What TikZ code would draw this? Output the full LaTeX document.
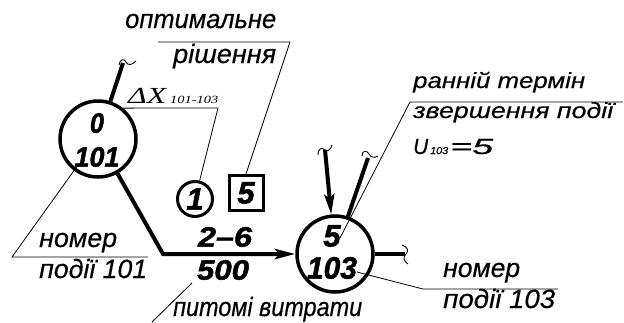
\documentclass[tikz,border=0pt]{standalone}
\usepackage{fontspec}
\usepackage{graphicx}
\usetikzlibrary{arrows.meta}
\setmainfont{Liberation Sans}[ItalicFeatures={FakeBold=0.4}]
\newfontfamily\serf{Liberation Serif}
\newfontfamily\numf{Liberation Sans Bold Italic}[FakeBold=1.6]
% set #2 horizontally stretched to the width #1 (in pt)
\newcommand\fitw[2]{\sbox0{#2}\edef\fitratio{\fpeval{(#1)/(\the\wd0)}}\scalebox{\fitratio}[1]{\usebox0}}

\begin{document}
\begin{tikzpicture}[x=1pt,y=-1pt,
  lbl/.style={inner sep=0pt, anchor=base west},
  fa/.style={lbl, font=\itshape\fontsize{26.5}{26.5}\selectfont},
  fc/.style={lbl, font=\itshape\fontsize{22}{22}\selectfont},
  num/.style={inner sep=0pt, font=\numf\fontsize{28}{28}\selectfont},
  bignum/.style={inner sep=0pt, font=\numf\fontsize{31}{31}\selectfont},
  evt/.style={circle, draw, line width=3.5pt, minimum size=76pt, inner sep=0pt},
  work/.style={line width=4pt},
  lead/.style={line width=0.8pt},
  brk/.style={line width=0.9pt},
  tip/.style={-{Stealth[length=20pt,width=10pt,inset=4pt]}}
]
\useasboundingbox (0,0) rectangle (624,322);

% events
\node[evt] (c101) at (98,139) {};
\node[num] (e101t) at (97,123) {\fitw{14}{0}};
\node[num] (e101b) at (97,157) {\fitw{45}{101}};
\node[evt] (c103) at (335,254) {};
\node[bignum] (e103t) at (332,236) {5};
\node[bignum] (e103b) at (332,268) {\fitw{50}{103}};

% work 101-103 with its marks
\node[circle, draw, line width=3pt, minimum size=35pt, inner sep=0pt] (c1) at (195,199) {};
\node[bignum] (one) at (195,199) {1};
\node[draw, line width=3pt, minimum width=34pt, minimum height=35pt, inner sep=0pt] (sq) at (246,193) {};
\node[bignum] (five) at (246,193) {5};
\node[num] (wt) at (225,237) {\fitw{54}{2–6}};
\node[num] (wc) at (223,270) {\fitw{52}{500}};

\coordinate (bend) at (163,254);
\draw[work, tip] (c101) -- (bend) -- (c103);

% other works, cut off
\coordinate (t101) at (123,63);
\draw[work] (c101) -- (t101);
\draw[brk] (119,65) .. controls (120,59) and (124,58) .. (126,62) .. controls (128,66) and (132,65) .. (136,61);

\coordinate (t1) at (325,150);
\draw[work, tip] (t1) -- (c103);
\draw[brk] (318,155) .. controls (318,148) and (322,147) .. (325,150) .. controls (328,152) and (331,149) .. (332,145);

\coordinate (t2) at (368,158);
\draw[work] (t2) -- (c103);
\draw[brk] (362,156) .. controls (362,150) and (367,150) .. (369,154) .. controls (371,158) and (375,158) .. (378,156);

\coordinate (t3) at (405,254);
\draw[work] (c103) -- (t3);
\draw[brk] (402,245) .. controls (408,247) and (409,251) .. (406,254) .. controls (403,257) and (403,261) .. (408,264);

% label: optimal solution
\node[fa] (opt1) at (125,28) {\fitw{151}{оптимальне}};
\node[fa] (opt2) at (173,63) {\fitw{103}{рішення}};
\coordinate (l1a) at (158,42);
\coordinate (l1b) at (290,42);
\draw[lead] (l1a) -- (l1b) -- (sq.north);

% label: delta X
\node[lbl, font=\serf\itshape\fontsize{23}{23}\selectfont] (dx) at (128,103) {\fitw{38}{ΔX}};
\node[lbl, font=\serf\itshape\fontsize{11}{11}\selectfont] (dxi) at (170,103) {\fitw{48}{101-103}};
\coordinate (l2a) at (218,108);
\draw[lead] (c101.51) -- (l2a) -- (c1);

% label: event number 101
\node[fa] (n101a) at (39,247) {\fitw{78}{номер}};
\node[fa] (n101b) at (39,278) {\fitw{108}{події 101}};
\coordinate (l3a) at (78,165);
\coordinate (l3b) at (12,257);
\coordinate (l3c) at (148,257);
\draw[lead] (l3a) -- (l3b) -- (l3c);

% label: unit costs
\node[fa] (cost) at (173,316) {\fitw{189}{питомі витрати}};
\coordinate (l4a) at (192,283);
\coordinate (l4b) at (152,322);
\draw[lead] (l4a) -- (l4b);

% label: early event time
\node[fc] (early1) at (413,88) {\fitw{172}{ранній термін}};
\node[fc] (early2) at (413,118) {\fitw{200}{звершення події}};
\node[fc] (eu) at (413,154) {\fitw{15}{U}};
\node[lbl, font=\itshape\fontsize{10}{10}\selectfont] (eui) at (430,154) {\fitw{18}{103}};
\node[fc] (euv) at (450,154) {\fitw{43}{=5}};
\coordinate (l5a) at (623,102);
\coordinate (l5b) at (410,102);
\coordinate (l5c) at (340,238);
\draw[lead] (l5a) -- (l5b) -- (l5c);

% label: event number 103
\node[fa] (n103a) at (443,277) {\fitw{77}{номер}};
\node[fa] (n103b) at (443,308) {\fitw{112}{події 103}};
\coordinate (l6a) at (357,272);
\coordinate (l6b) at (423,289);
\coordinate (l6c) at (558,289);
\draw[lead] (l6a) -- (l6b) -- (l6c);
\end{tikzpicture}
\end{document}
